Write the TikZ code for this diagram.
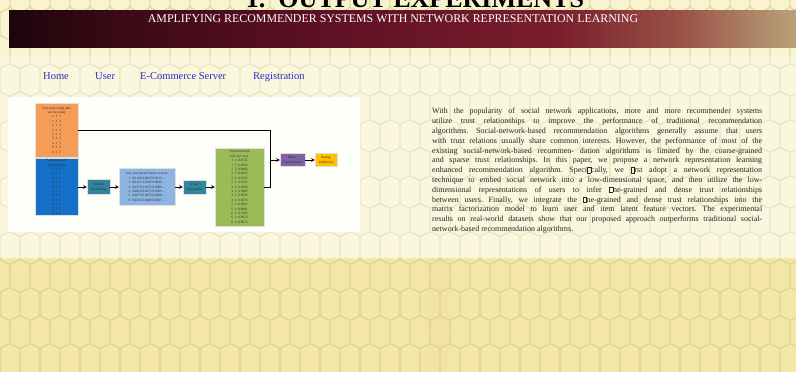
\documentclass[tikz,border=0pt]{standalone}
\usepackage{fontspec}
\setmainfont{Liberation Serif}
\usetikzlibrary{calc}
\tikzset{>=stealth}

\definecolor{combline}{HTML}{BFC97A}
\definecolor{pagelight}{HTML}{FAF3D0}
\definecolor{pagedeep}{HTML}{F4E6A6}
\definecolor{navblue}{HTML}{2B2BC8}
\definecolor{boxorange}{HTML}{F59D56}
\definecolor{boxblue}{HTML}{1570C8}
\definecolor{boxteal}{HTML}{31859C}
\definecolor{boxpale}{HTML}{8DB4E2}
\definecolor{boxgreen}{HTML}{9BBB59}
\definecolor{boxpurple}{HTML}{8064A2}
\definecolor{boxyellow}{HTML}{FFC000}
\definecolor{boxtext}{HTML}{2A2A2A}
\definecolor{bannerA}{HTML}{1E050B}
\definecolor{bannerB}{HTML}{3E0A18}
\definecolor{bannerC}{HTML}{5E1024}
\definecolor{bannerD}{HTML}{7A1E2C}
\definecolor{bannerE}{HTML}{9A5548}
\definecolor{bannerF}{HTML}{B9A27A}

\pgfdeclarehorizontalshading{banner}{100bp}{color(0bp)=(bannerA);
  color(25bp)=(bannerA); color(33bp)=(bannerB); color(45bp)=(bannerC);
  color(60bp)=(bannerD); color(68bp)=(bannerE);
  color(75bp)=(bannerF); color(100bp)=(bannerF)}

\newcommand{\nog}{{\setlength\fboxsep{0pt}\setlength\fboxrule{0.3pt}\fbox{\phantom{\rule{3.2pt}{5.2pt}}}}}
\newcommand{\jline}[1]{\makebox[330pt][s]{#1}\\}

\begin{document}
\begin{tikzpicture}[x=1pt,y=-1pt,
    comb/.style={draw=combline,line width=0.6pt},
    diabox/.style={draw=white!75!gray,line width=0.3pt,inner sep=0.5pt,align=center,
      text=boxtext,font=\fontsize{3.4}{4.4}\selectfont},
    navlink/.style={anchor=base west,inner sep=0pt,text=navblue,font=\fontsize{10.5}{12}\selectfont}]
  \useasboundingbox (0,0) rectangle (796,372);
  \clip (0,0) rectangle (796,372);
  % page background
  \fill[pagelight] (0,0) rectangle (796,258);
  \fill[pagedeep] (0,258) rectangle (796,372);
  \fill[pagedeep!85!brown,opacity=0.12] (426,258) rectangle (450,372);
  \foreach \r in {0,...,14}{
    \foreach \c in {-1,...,40}{
      \pgfmathsetmacro\hx{\c*20+mod(\r,2)*10}
      \pgfmathsetmacro\hy{\r*28-4}
      \draw[comb] (\hx-10,\hy-11.5) -- (\hx,\hy-16.5) -- (\hx+10,\hy-11.5) -- (\hx+10,\hy+11.5);
    }
  }
  \fill[white,opacity=0.3] (0,56) rectangle (796,258);
  % heading
  \node[anchor=base,inner sep=0pt,font=\bfseries\fontsize{26}{28}\selectfont] (chapter) at (415,7) {1.\ \ OUTPUT EXPERIMENTS};
  \shade[shading=banner] (9,10) rectangle (796,47);
  \node[anchor=base,inner sep=0pt,text=white,font=\fontsize{11.9}{13}\selectfont] (title) at (393,22.5)
    {AMPLIFYING RECOMMENDER SYSTEMS WITH NETWORK REPRESENTATION LEARNING};
  % menu
  \node[navlink] (home) at (43,79) {Home};
  \node[navlink] (user) at (95,79) {User};
  \node[navlink] (server) at (140,79) {E-Commerce Server};
  \node[navlink] (register) at (253,79) {Registration};
  % flow chart
  \fill[white!98!yellow] (8,97) rectangle (360,232);
  \node[diabox,fill=boxorange,minimum width=43,minimum height=54] (rating) at (56.5,130)
    {User-item rating data\\uid iid rating\\1\ \ 1\ \ 3\\1\ \ 2\ \ 3\\2\ \ 1\ \ 5\\2\ \ 2\ \ 4\\3\ \ 2\ \ 4\\3\ \ 3\ \ 3\\4\ \ 1\ \ 5\\5\ \ 2\ \ 4\\6\ \ 3\ \ 5};
  \node[diabox,fill=boxblue,minimum width=43,minimum height=57] (social) at (56.5,187)
    {Social network\\uid uid trust\\1\ \ 2\ \ 1\\1\ \ 5\ \ 1\\2\ \ 3\ \ 1\\2\ \ 5\ \ 1\\2\ \ 6\ \ 1\\3\ \ 1\ \ 1\\3\ \ 4\ \ 1\\4\ \ 2\ \ 1\\4\ \ 5\ \ 1\\5\ \ 3\ \ 1\\6\ \ 4\ \ 1};
  \node[diabox,fill=boxteal,minimum width=23,minimum height=15] (embed) at (98.5,187)
    {Network\\Embedding};
  \node[diabox,fill=boxpale,minimum width=56,minimum height=37] (latent) at (147,187)
    {uid\ \ user latent feature vectors\\1\ \ 0.0128 0.0925 0.0112 ...\\2\ \ 0.0112 0.0149 0.0089 ...\\3\ \ 0.0376 0.0225 0.0089 ...\\4\ \ 0.0026 0.0475 0.0509 ...\\5\ \ 0.0076 0.0479 0.0029 ...\\6\ \ 0.0356 0.0489 0.0207 ...};
  \node[diabox,fill=boxteal,minimum width=23,minimum height=14] (trustcalc) at (194.5,187)
    {Trust\\Calculation};
  \node[diabox,fill=boxgreen,minimum width=49,minimum height=78] (trustnet) at (239.5,187)
    {Social network\\uid\ \ uid\ \ trust\\1\ \ 2\ \ 0.9745\\1\ \ 5\ \ 0.9956\\2\ \ 3\ \ 0.9884\\2\ \ 5\ \ 0.8635\\2\ \ 6\ \ 0.9245\\3\ \ 1\ \ 0.9722\\3\ \ 4\ \ 0.9958\\4\ \ 2\ \ 0.7869\\4\ \ 5\ \ 0.9556\\4\ \ 6\ \ 0.9476\\5\ \ 3\ \ 0.9922\\5\ \ 6\ \ 0.8992\\6\ \ 1\ \ 0.7456\\6\ \ 3\ \ 0.9676\\6\ \ 4\ \ 0.8672};
  \coordinate (join) at (270,160);
  \node[diabox,fill=boxpurple,minimum width=25,minimum height=13] (factor) at (292.5,160)
    {Matrix\\Factorization};
  \node[diabox,fill=boxyellow,minimum width=22,minimum height=13] (predict) at (326,160)
    {Rating\\Prediction};
  \begin{scope}[line width=0.6pt]
    \draw (rating.east) -| (join);
    \draw (trustnet.east) -| (join);
    \begin{scope}[->]
      \draw (social) -- (embed);
      \draw (embed) -- (latent);
      \draw (latent) -- (trustcalc);
      \draw (trustcalc) -- (trustnet);
      \draw (join) -- (factor);
      \draw (factor) -- (predict);
    \end{scope}
  \end{scope}
  % abstract
  \node[anchor=north west,inner sep=0pt,align=left,text=black!85,font=\frenchspacing\fontsize{8}{9.8}\selectfont] (abstract) at (432,108) {%
    \jline{With the popularity of social network applications, more and more recommender systems}
    \jline{utilize trust relationships to improve the performance of traditional recommendation}
    \jline{algorithms. Social-network-based recommendation algorithms generally assume that users}
    \jline{with trust relations usually share common interests. However, the performance of most of the}
    \jline{existing social-network-based recommen- dation algorithms is limited by the coarse-grained}
    \jline{and sparse trust relationships. In this paper, we propose a network representation learning}
    \jline{enhanced recommendation algorithm. Speci\nog cally, we \nog rst adopt a network representation}
    \jline{technique to embed social network into a low-dimensional space, and then utilize the low-}
    \jline{dimensional representations of users to infer \nog ne-grained and dense trust relationships}
    \jline{between users. Finally, we integrate the \nog ne-grained and dense trust relationships into the}
    \jline{matrix factorization model to learn user and item latent feature vectors. The experimental}
    \jline{results on real-world datasets show that our proposed approach outperforms traditional social-}
    network-based recommendation algorithms.};
\end{tikzpicture}
\end{document}
